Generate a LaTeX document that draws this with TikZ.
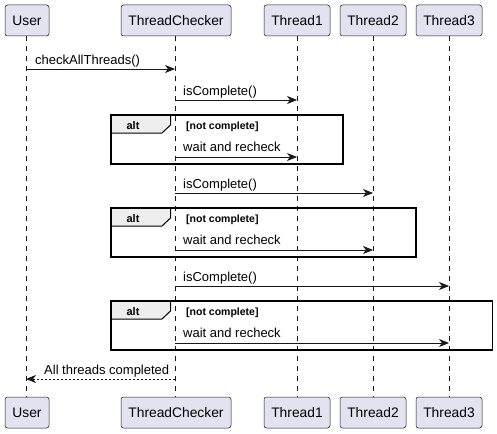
\documentclass[tikz,border=0pt]{standalone}
\usepackage{fontspec}
\setmainfont{Liberation Sans}
\usetikzlibrary{arrows.meta}
\definecolor{pbox}{HTML}{E2E2F0}
\definecolor{pline}{HTML}{181818}
\definecolor{ptab}{HTML}{EEEEEE}
\begin{document}
\begin{tikzpicture}[x=1pt,y=-1pt,
 part/.style={draw=pline, fill=pbox, line width=0.5pt, rounded corners=2.5pt, minimum height=31pt, inner sep=0pt, font=\fontsize{13.8}{16}\selectfont},
 life/.style={draw=pline, line width=0.5pt, dash pattern=on 5pt off 5pt},
 msg/.style={draw=pline, line width=0.8pt, -{Stealth[length=10pt,width=8pt,inset=3pt]}},
 ret/.style={msg, dash pattern=on 2pt off 2pt},
 lbl/.style={anchor=base west, inner sep=0pt, font=\fontsize{13}{15}\selectfont},
 frame/.style={draw=black, line width=1.5pt},
 tab/.style={draw=black, fill=ptab, line width=1pt},
 guard/.style={anchor=base west, inner sep=0pt, font=\bfseries\fontsize{10.5}{12}\selectfont},
 altlbl/.style={anchor=base, inner sep=0pt, font=\bfseries\fontsize{11}{13}\selectfont},
]
\useasboundingbox (0,0) rectangle (497,433);

% participants top
\node[part, minimum width=44pt] (uT) at (27,20.5) {User};
\node[part, minimum width=110pt] (cT) at (176,20.5) {ThreadChecker};
\node[part, minimum width=66pt] (aT) at (297,20.5) {Thread1};
\node[part, minimum width=66pt] (bT) at (373,20.5) {Thread2};
\node[part, minimum width=66pt] (dT) at (449,20.5) {Thread3};
% participants bottom
\node[part, minimum width=44pt] (uB) at (27,412.5) {User};
\node[part, minimum width=110pt] (cB) at (176,412.5) {ThreadChecker};
\node[part, minimum width=66pt] (aB) at (297,412.5) {Thread1};
\node[part, minimum width=66pt] (bB) at (373,412.5) {Thread2};
\node[part, minimum width=66pt] (dB) at (449,412.5) {Thread3};

% lifelines
\draw[life] (26,36) coordinate (uL1) -- (26,397) coordinate (uL2);
\draw[life] (175,36) coordinate (cL1) -- (175,397) coordinate (cL2);
\draw[life] (297,36) coordinate (aL1) -- (297,397) coordinate (aL2);
\draw[life] (373,36) coordinate (bL1) -- (373,397) coordinate (bL2);
\draw[life] (449,36) coordinate (dL1) -- (449,397) coordinate (dL2);

% message 1
\coordinate (m1s) at (26,69); \coordinate (m1e) at (175,69);
\draw[msg] (m1s) -- (m1e);
\node[lbl] (t1) at (35,64.5) {checkAllThreads()};

% isComplete 1
\coordinate (m2s) at (175,100); \coordinate (m2e) at (297,100);
\draw[msg] (m2s) -- (m2e);
\node[lbl] (t2) at (183,95.5) {isComplete()};

% alt 1
\draw[tab] (111,115) -- (170.5,115) -- (170.5,125) -- (162,133) -- (111,133) -- cycle;
\draw[frame] (111,115) rectangle (343,164);
\node[altlbl] (a1) at (133,129) {alt};
\node[guard] (g1) at (186,129) {[not complete]};
\coordinate (m3s) at (175,157); \coordinate (m3e) at (297,157);
\draw[msg] (m3s) -- (m3e);
\node[lbl] (t3) at (183,151) {wait and recheck};

% isComplete 2
\coordinate (m4s) at (175,193); \coordinate (m4e) at (373,193);
\draw[msg] (m4s) -- (m4e);
\node[lbl] (t4) at (183,188.5) {isComplete()};

% alt 2
\draw[tab] (111,208) -- (170.5,208) -- (170.5,218) -- (162,226) -- (111,226) -- cycle;
\draw[frame] (111,208) rectangle (416,257);
\node[altlbl] (a2) at (133,222) {alt};
\node[guard] (g2) at (186,222) {[not complete]};
\coordinate (m5s) at (175,250); \coordinate (m5e) at (373,250);
\draw[msg] (m5s) -- (m5e);
\node[lbl] (t5) at (183,244) {wait and recheck};

% isComplete 3
\coordinate (m6s) at (175,286); \coordinate (m6e) at (449,286);
\draw[msg] (m6s) -- (m6e);
\node[lbl] (t6) at (183,281.5) {isComplete()};

% alt 3
\draw[tab] (111,301) -- (170.5,301) -- (170.5,311) -- (162,319) -- (111,319) -- cycle;
\draw[frame] (111,301) rectangle (492.5,350);
\node[altlbl] (a3) at (133,315) {alt};
\node[guard] (g3) at (186,315) {[not complete]};
\coordinate (m7s) at (175,343); \coordinate (m7e) at (449,343);
\draw[msg] (m7s) -- (m7e);
\node[lbl] (t7) at (183,337) {wait and recheck};

% return
\coordinate (m8s) at (175,379); \coordinate (m8e) at (26,379);
\draw[ret] (m8s) -- (m8e);
\node[lbl] (t8) at (44,374) {All threads completed};
\end{tikzpicture}
\end{document}
